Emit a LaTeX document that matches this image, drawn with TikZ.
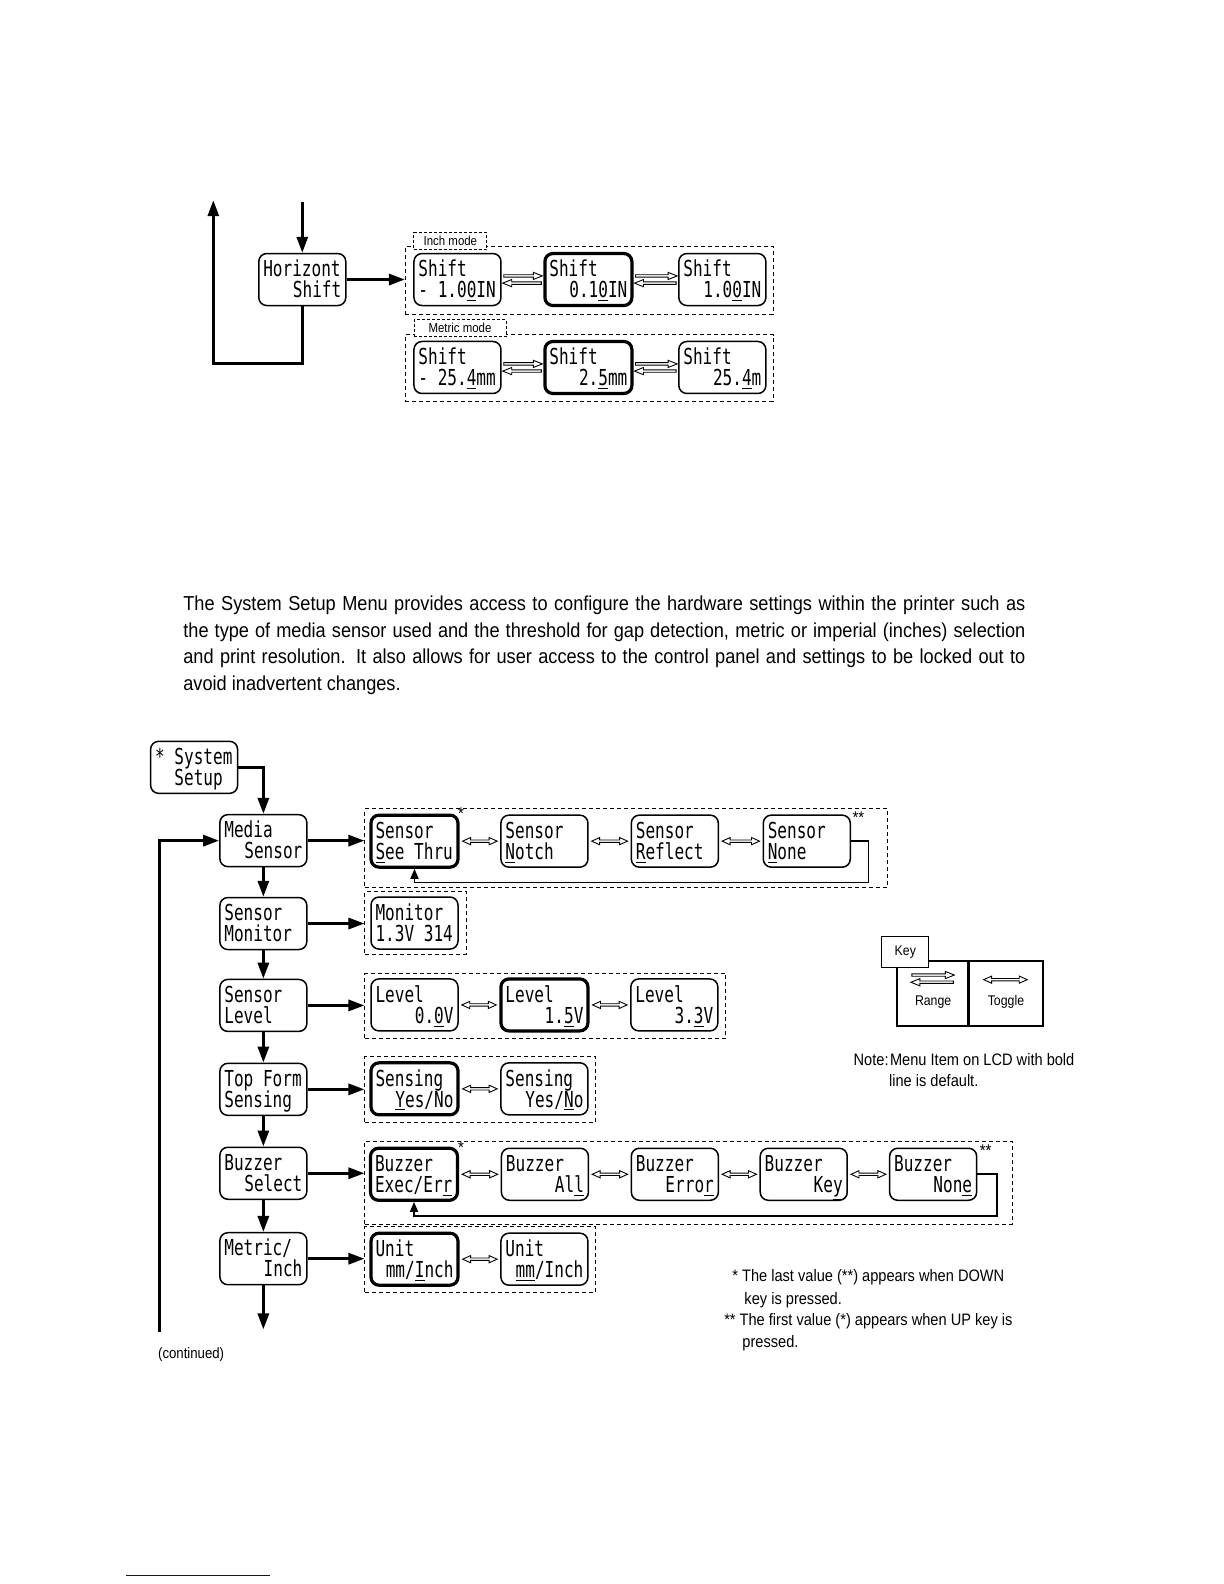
\documentclass[tikz,border=0pt]{standalone}
\usepackage{fontspec}
\newfontfamily\lcdf[FakeStretch=0.73]{DejaVu Sans Mono}
\newfontfamily\sfn[FakeStretch=0.88]{Liberation Sans}
\newfontfamily\sfp[FakeStretch=0.9]{Liberation Sans}
\usetikzlibrary{arrows.meta,fit,calc}
\newcommand\lcdR[2]{\parbox[c][20pt][t]{39pt}{\lcdf\fontsize{11}{10.5}\selectfont\lineskiplimit=-20pt\parindent=0pt\relax\rule{0pt}{8.6pt}#1\par\hfill #2}}
\newcommand\lcdL[2]{\parbox[c][20pt][t]{39pt}{\lcdf\fontsize{11}{10.5}\selectfont\lineskiplimit=-20pt\parindent=0pt\relax\rule{0pt}{8.6pt}#1\par #2}}
\begin{document}
\begin{tikzpicture}[x=0.5055pt,y=-0.5055pt,
  lcd/.style={draw, rounded corners=4pt, line width=0.75pt, minimum width=43.5pt, minimum height=26pt, inner sep=0pt},
  dflt/.style={lcd, line width=1.6pt},
  grp/.style={draw, dash pattern=on 2pt off 1.5pt, line width=0.5pt, inner sep=0pt},
  conn/.style={line width=1.5pt, line join=miter, -{Triangle[length=8pt,width=5.5pt]}},
  ret/.style={line width=0.8pt, -{Triangle[length=5pt,width=4pt]}},
  lbl/.style={draw, dash pattern=on 1.5pt off 1pt, line width=0.5pt, fill=white, inner sep=0pt, font=\sfn\fontsize{6.5}{7}\selectfont},
  star/.style={font=\sfn\fontsize{8.5}{8.5}\selectfont, inner sep=0pt},
  note/.style={font=\sfn\fontsize{8.3}{10}\selectfont, inner sep=0pt, anchor=base west},
  small/.style={font=\sfn\fontsize{7}{8}\selectfont, inner sep=0pt},
  togglearr/.style={line width=0.45pt, to path={let \p1=(\tikztostart), \p2=(\tikztotarget) in (\x1+1.5pt,\y1) -- (\x1+5.5pt,\y1+1.8pt) -- (\x1+5.5pt,\y1+0.6pt) -- (\x2-5.5pt,\y1+0.6pt) -- (\x2-5.5pt,\y1+1.8pt) -- (\x2-1.5pt,\y1) -- (\x2-5.5pt,\y1-1.8pt) -- (\x2-5.5pt,\y1-0.6pt) -- (\x1+5.5pt,\y1-0.6pt) -- (\x1+5.5pt,\y1-1.8pt) -- cycle}},
  rangearr/.style={line width=0.45pt, to path={let \p1=(\tikztostart), \p2=(\tikztotarget) in (\x1+1pt,\y1+2.4pt) -- (\x2-5pt,\y1+2.4pt) -- (\x2-5pt,\y1+3.6pt) -- (\x2-0.5pt,\y1+1.8pt) -- (\x2-5pt,\y1) -- (\x2-5pt,\y1+1.2pt) -- (\x1+1pt,\y1+1.2pt) -- cycle (\x2-1pt,\y1-1.2pt) -- (\x1+5pt,\y1-1.2pt) -- (\x1+5pt,\y1) -- (\x1+0.5pt,\y1-1.8pt) -- (\x1+5pt,\y1-3.6pt) -- (\x1+5pt,\y1-2.4pt) -- (\x2-1pt,\y1-2.4pt) -- cycle}},
]
\fill[white] (0pt,0pt) rectangle (612pt,-792pt);
\useasboundingbox (0pt,0pt) rectangle (612pt,-792pt);

% ---------- top diagram ----------
\node[lcd] (hs) at (299,276.5) {\lcdR{Horizont}{Shift}};
\coordinate (hsin) at (299,200);
\coordinate (hsup) at (211,198);
\coordinate (hscor) at (211,360);
\draw[conn] (hsin) -- (hs.north);
\draw[conn] (hs.south) |- (hscor) -- (hsup);

\node[grp, fit={(401,244) (765,311)}] (inch) {};
\node[lbl, minimum width=36.5pt, minimum height=8.5pt] (inchl) at (445.5,238.5) {Inch mode};
\draw[conn] (hs.east) -- (hs.east -| inch.west);
\node[lcd] (i1) at (452.5,276.5) {\lcdL{Shift}{- 1.0\underline{0}IN}};
\node[dflt] (i2) at (582,276.5) {\lcdR{Shift}{0.1\underline{0}IN}};
\node[lcd] (i3) at (714.5,276.5) {\lcdR{Shift}{1.0\underline{0}IN}};
\draw[rangearr] (i1.east) to (i2.west);
\draw[rangearr] (i2.east) to (i3.west);

\node[grp, fit={(401,331) (765,397)}] (metric) {};
\node[lbl, minimum width=46pt, minimum height=8.5pt] (metl) at (455,324.5) {Metric mode};
\node[lcd] (m1) at (452.5,363.5) {\lcdL{Shift}{- 25.\underline{4}mm}};
\node[dflt] (m2) at (582,363.5) {\lcdR{Shift}{2.\underline{5}mm}};
\node[lcd] (m3) at (714.5,363.5) {\lcdR{Shift}{25.\underline{4}m}};
\draw[rangearr] (m1.east) to (m2.west);
\draw[rangearr] (m2.east) to (m3.west);

% ---------- paragraph ----------
\node[anchor=north west, inner sep=0pt, text width=421pt, align=justify, font=\sfp\fontsize{10.1}{13.3}\selectfont] (para) at (181,589)
{The System Setup Menu provides access to configure the hardware settings within the printer such as\linebreak
the type of media sensor used and the threshold for gap detection, metric or imperial (inches) selection\linebreak
and print resolution. It also allows for user access to the control panel and settings to be locked out to\linebreak
avoid inadvertent changes.};

% ---------- bottom diagram ----------
\node[lcd] (sys) at (192,759) {\lcdL{* System}{\phantom{* }Setup}};
\node[lcd] (media) at (260.5,831.5) {\lcdR{Media}{Sensor}};
\node[lcd] (smon) at (260.5,913.5) {\lcdL{Sensor}{Monitor}};
\node[lcd] (slev) at (260.5,994.5) {\lcdL{Sensor}{Level}};
\node[lcd] (tof) at (260.5,1077.5) {\lcdL{Top Form}{Sensing}};
\node[lcd] (buz) at (260.5,1160.5) {\lcdR{Buzzer}{Select}};
\node[lcd] (metr) at (260.5,1245) {\lcdR{Metric/}{Inch}};

\draw[conn] (sys.east) -| (media.north);
\draw[conn] (media.south) -- (smon.north);
\draw[conn] (smon.south) -- (slev.north);
\draw[conn] (slev.south) -- (tof.north);
\draw[conn] (tof.south) -- (buz.north);
\draw[conn] (buz.south) -- (metr.north);
\coordinate (contd) at (260.5,1315);
\draw[conn] (metr.south) -- (contd);
\coordinate (loopb) at (158,1318);
\draw[conn] (loopb) |- (media.west);
\node[font=\sfn\fontsize{7.5}{8}\selectfont, inner sep=0pt, anchor=base west] (contt) at (156,1344) {(continued)};

% groups
\node[grp, fit={(361,800) (878,878)}] (g1) {};
\node[grp, fit={(361,882) (461,944)}] (g2) {};
\node[grp, fit={(361,963) (718,1027)}] (g3) {};
\node[grp, fit={(361,1045) (589,1110)}] (g4) {};
\node[grp, fit={(361,1129) (1001,1211)}] (g5) {};
\node[grp, fit={(361,1213) (589,1278)}] (g6) {};

\draw[conn] (media.east) -- (media.east -| g1.west);
\draw[conn] (smon.east) -- (smon.east -| g2.west);
\draw[conn] (slev.east) -- (slev.east -| g3.west);
\draw[conn] (tof.east) -- (tof.east -| g4.west);
\draw[conn] (buz.east) -- (buz.east -| g5.west);
\draw[conn] (metr.east) -- (metr.east -| g6.west);

% media sensor row
\node[dflt] (s1) at (410,832) {\lcdL{Sensor}{\underline{S}ee Thru}};
\node[lcd] (s2) at (538.5,832) {\lcdL{Sensor}{\underline{N}otch}};
\node[lcd] (s3) at (667.5,832) {\lcdL{Sensor}{\underline{R}eflect}};
\node[lcd] (s4) at (798,832) {\lcdL{Sensor}{\underline{N}one}};
\draw[togglearr] (s1.east) to (s2.west);
\draw[togglearr] (s2.east) to (s3.west);
\draw[togglearr] (s3.east) to (s4.west);
\coordinate (r1a) at (859,873);
\draw[ret] (s4.east) -| (r1a) -| (s1.south);
\node[star] (st1) at (456,805) {*};
\node[star] (st2) at (849,809) {**};

% monitor
\node[lcd] (mo1) at (410,913) {\lcdL{Monitor}{1.3V 314}};

% level
\node[lcd] (l1) at (410,994) {\lcdR{Level}{0.\underline{0}V}};
\node[dflt] (l2) at (538.5,994) {\lcdR{Level}{1.\underline{5}V}};
\node[lcd] (l3) at (667,994) {\lcdR{Level}{3.\underline{3}V}};
\draw[togglearr] (l1.east) to (l2.west);
\draw[togglearr] (l2.east) to (l3.west);

% sensing
\node[dflt] (t1) at (410,1077) {\lcdR{Sensing}{\underline{Y}es/No}};
\node[lcd] (t2) at (538.5,1077) {\lcdR{Sensing}{Yes/\underline{N}o}};
\draw[togglearr] (t1.east) to (t2.west);

% buzzer
\node[dflt] (b1) at (409.5,1161.5) {\lcdL{Buzzer}{Exec/Er\underline{r}}};
\node[lcd] (b2) at (539,1161.5) {\lcdR{Buzzer}{Al\underline{l}}};
\node[lcd] (b3) at (667.5,1161.5) {\lcdR{Buzzer}{Erro\underline{r}}};
\node[lcd] (b4) at (795,1161.5) {\lcdR{Buzzer}{Ke\underline{y}}};
\node[lcd] (b5) at (923,1161.5) {\lcdR{Buzzer}{Non\underline{e}}};
\draw[togglearr] (b1.east) to (b2.west);
\draw[togglearr] (b2.east) to (b3.west);
\draw[togglearr] (b3.east) to (b4.west);
\draw[togglearr] (b4.east) to (b5.west);
\coordinate (r2a) at (986,1203);
\draw[ret] (b5.east) -| (r2a) -| (b1.south);
\node[star] (st3) at (456,1135) {*};
\node[star] (st4) at (975,1138) {**};

% unit
\node[dflt] (u1) at (410,1245.5) {\lcdR{Unit}{mm/\underline{I}nch}};
\node[lcd] (u2) at (538.5,1245.5) {\lcdR{Unit}{\underline{mm}/Inch}};
\draw[togglearr] (u1.east) to (u2.west);

% ---------- legend ----------
\node[draw, line width=0.75pt, minimum width=35.5pt, minimum height=32.5pt, inner sep=0pt] (rcell) at (922.5,982.5) {};
\node[draw, line width=0.75pt, minimum width=37pt, minimum height=32.5pt, inner sep=0pt] (tcell) at (995,982.5) {};
\node[draw, line width=0.6pt, fill=white, minimum width=23.5pt, minimum height=15.5pt, inner sep=0pt, font=\sfn\fontsize{7}{8}\selectfont] (key) at (895.5,941.5) {Key};
\coordinate (rgA) at (900,968);
\coordinate (rgB) at (945,968);
\draw[rangearr] (rgA) to (rgB);
\coordinate (tgA) at (970,969);
\coordinate (tgB) at (1019,969);
\draw[togglearr] (tgA) to (tgB);
\node[small] (rtxt) at (923,991) {Range};
\node[small] (ttxt) at (995,991) {Toggle};

\node[note] (note1) at (844,1054) {Note:};
\node[note] (note2) at (880,1054) {Menu Item on LCD with bold};
\node[note] (note3) at (879,1075) {line is default.};

\node[note] (fn1) at (724,1268) {* The last value (**) appears when DOWN};
\node[note] (fn2) at (736,1290) {key is pressed.};
\node[note] (fn3) at (716,1311) {** The first value (*) appears when UP key is};
\node[note] (fn4) at (734,1333) {pressed.};

\draw[blue!75!black, line width=0.5pt] (125,1558) -- (267,1558);
\end{tikzpicture}
\end{document}
